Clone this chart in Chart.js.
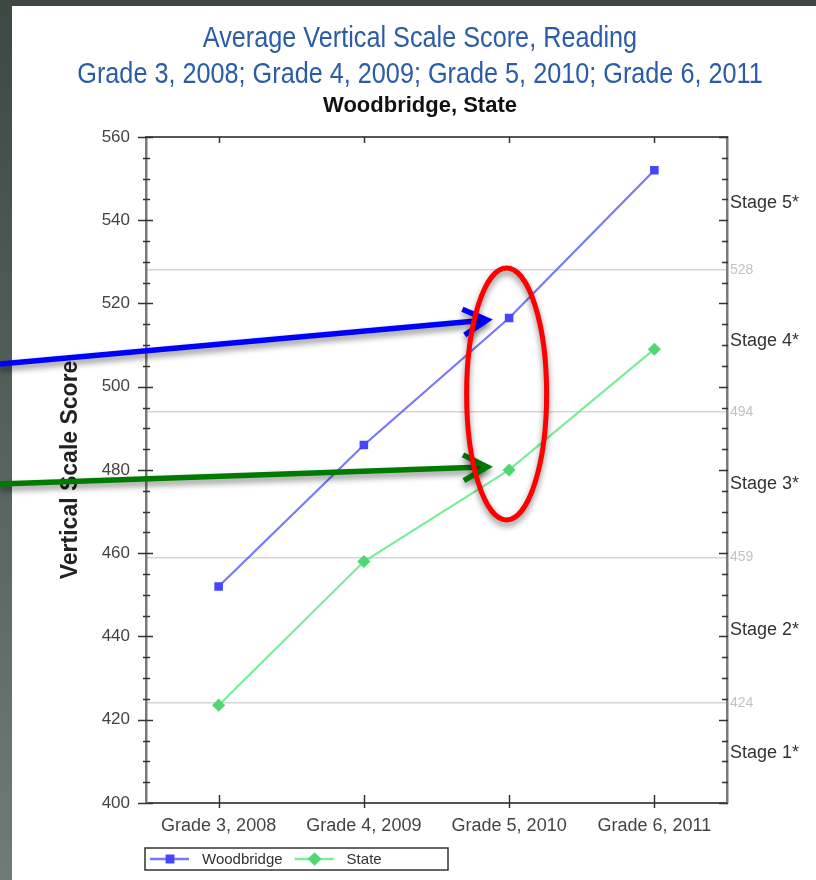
<!DOCTYPE html>
<html>
<head>
<meta charset="utf-8">
<title>Average Vertical Scale Score, Reading</title>
<script src="https://cdn.jsdelivr.net/npm/chart.js@4.4.0/dist/chart.umd.min.js"></script>
<style>
  html, body { margin: 0; padding: 0; overflow: hidden; }
  body { width: 816px; height: 880px; position: relative; background: linear-gradient(#3c4841, #6f7b77); }
  #panel { position: absolute; left: 12px; top: 6px; right: 0; bottom: 0; background: #fff; }
  #scoreChart { position: absolute; left: 0; top: 0; }
</style>
</head>
<body>
<div id="panel"></div>
<canvas id="scoreChart" width="816" height="880"></canvas>
<script>
const grades = ["Grade 3, 2008", "Grade 4, 2009", "Grade 5, 2010", "Grade 6, 2011"];
const woodbridge = [452, 486, 516.5, 552];
const stateAvg = [423.5, 458, 480, 509];
const stageCuts = [424, 459, 494, 528];
const stageNames = ["Stage 1*", "Stage 2*", "Stage 3*", "Stage 4*", "Stage 5*"];
const titleLines = ["Average Vertical Scale Score, Reading", "Grade 3, 2008; Grade 4, 2009; Grade 5, 2010; Grade 6, 2011"];
const scoreMin = 400;
const scoreMax = 560;
const minorStep = 5;

const SANS = '"Liberation Sans", Arial, sans-serif';
const padLeft = 24;

// stage labels sit halfway between the cut scores
const bounds = [scoreMin, ...stageCuts, scoreMax];
const stageMids = stageNames.map((n, i) => (bounds[i] + bounds[i + 1]) / 2);

function isCut(c) {
  return !!(c && c.tick && stageCuts.includes(c.tick.value));
}

// blue two-line heading in a narrow face (squeezed Liberation Sans)
const narrowTitle = {
  id: 'narrowTitle',
  afterDraw(chart) {
    const ctx = chart.ctx;
    const cx = (chart.width + padLeft) / 2;
    ctx.save();
    ctx.fillStyle = '#2b5ca6';
    ctx.font = '29px ' + SANS;
    ctx.textAlign = 'center';
    ctx.textBaseline = 'middle';
    titleLines.forEach((t, i) => {
      ctx.save();
      ctx.translate(cx, 38.5 + i * 36);
      ctx.scale(0.87, 1);
      ctx.fillText(t, 0, 0);
      ctx.restore();
    });
    ctx.restore();
  }
};

// box frame: top edge, minor ticks on both value axes, category ticks
const frameTicks = {
  id: 'frameTicks',
  beforeDatasetsDraw(chart) {
    const { ctx, chartArea: a, scales: { x, y } } = chart;
    ctx.save();
    ctx.strokeStyle = '#555';
    ctx.lineWidth = 2;
    ctx.beginPath();
    ctx.moveTo(a.left - 1, a.top);
    ctx.lineTo(a.right + 1, a.top);
    ctx.stroke();

    ctx.strokeStyle = '#333';
    ctx.lineWidth = 1.5;
    for (let v = scoreMin; v <= scoreMax; v += minorStep) {
      const py = Math.round(y.getPixelForValue(v)) + 0.5;
      const major = v % 20 === 0;
      ctx.beginPath();
      ctx.moveTo(a.left - (major ? 8 : 3), py);
      ctx.lineTo(a.left + (major ? 7 : 4), py);
      ctx.moveTo(a.right - (major ? 8 : 5), py);
      ctx.lineTo(a.right + 1, py);
      ctx.stroke();
    }
    grades.forEach((g, i) => {
      const px = Math.round(x.getPixelForValue(i)) + 0.5;
      ctx.beginPath();
      ctx.moveTo(px, a.bottom - 8);
      ctx.lineTo(px, a.bottom + 5);
      ctx.moveTo(px, a.top);
      ctx.lineTo(px, a.top + 6);
      ctx.stroke();
    });
    ctx.restore();
  }
};

// legend in a thin box under the plot, line + marker per series
const boxLegend = {
  id: 'boxLegend',
  afterDraw(chart) {
    const { ctx, chartArea: a } = chart;
    const left = a.left - 1, top = a.bottom + 45, w = 303, h = 22;
    const cy = top + h / 2;
    ctx.save();
    ctx.strokeStyle = '#333';
    ctx.lineWidth = 1.5;
    ctx.strokeRect(left, top, w, h);
    ctx.font = '15px ' + SANS;
    ctx.textBaseline = 'middle';
    let cx = left + 5;
    chart.data.datasets.forEach(ds => {
      ctx.strokeStyle = ds.borderColor;
      ctx.lineWidth = 2.5;
      ctx.beginPath();
      ctx.moveTo(cx, cy);
      ctx.lineTo(cx + 39, cy);
      ctx.stroke();
      ctx.fillStyle = ds.pointBackgroundColor;
      ctx.strokeStyle = ds.pointBorderColor;
      Chart.helpers.drawPoint(ctx, { pointStyle: ds.pointStyle, radius: ds.pointRadius, rotation: 0, borderWidth: 1 }, cx + 20, cy);
      ctx.fillStyle = '#333';
      ctx.fillText(ds.label, cx + 52, cy + 1);
      cx += 52 + ctx.measureText(ds.label).width + 12;
    });
    ctx.restore();
  }
};

function arrow(ctx, x0, y0, x1, y1, color) {
  const ang = Math.atan2(y1 - y0, x1 - x0);
  ctx.strokeStyle = color;
  ctx.lineWidth = 5.5;
  ctx.lineJoin = 'miter';
  ctx.beginPath();
  ctx.moveTo(x0, y0);
  ctx.lineTo(x1 - 3 * Math.cos(ang), y1 - 3 * Math.sin(ang));
  ctx.stroke();
  ctx.beginPath();
  ctx.moveTo(x1 - 27 * Math.cos(ang - 0.5), y1 - 27 * Math.sin(ang - 0.5));
  ctx.lineTo(x1, y1);
  ctx.lineTo(x1 - 27 * Math.cos(ang + 0.5), y1 - 27 * Math.sin(ang + 0.5));
  ctx.stroke();
}

// arrows and ring pointing at the Grade 5 scores
const blueArrowStartY = 364;
const greenArrowStartY = 484;
const callouts = {
  id: 'callouts',
  afterDraw(chart) {
    const { ctx, scales: { x, y } } = chart;
    const px = x.getPixelForValue(2);
    const wy = y.getPixelForValue(woodbridge[2]);
    const sy = y.getPixelForValue(stateAvg[2]);
    ctx.save();
    ctx.shadowColor = 'rgba(0,0,0,0.45)';
    ctx.shadowBlur = 6;
    ctx.shadowOffsetY = 4;
    arrow(ctx, 0, blueArrowStartY, px - 22, wy + 2, '#0000ff');
    arrow(ctx, 0, greenArrowStartY, px - 22, sy - 3, '#007a00');
    ctx.strokeStyle = '#ff0000';
    ctx.lineWidth = 5;
    ctx.beginPath();
    ctx.ellipse(px - 2.5, (wy + sy) / 2, 40, 126, 0, 0, Math.PI * 2);
    ctx.stroke();
    ctx.restore();
  }
};

new Chart(document.getElementById('scoreChart'), {
  type: 'line',
  data: {
    labels: grades,
    datasets: [
      {
        label: 'Woodbridge',
        data: woodbridge,
        borderColor: 'rgba(95,95,255,0.85)',
        borderWidth: 2.2,
        pointStyle: 'rect',
        pointRadius: 4.5,
        pointBackgroundColor: '#4646ff',
        pointBorderColor: '#4646ff',
        tension: 0,
        yAxisID: 'y'
      },
      {
        label: 'State',
        data: stateAvg,
        borderColor: 'rgba(110,235,140,0.9)',
        borderWidth: 2.2,
        pointStyle: 'rectRot',
        pointRadius: 5,
        pointBackgroundColor: '#4ed870',
        pointBorderColor: '#4ed870',
        tension: 0,
        yAxisID: 'y'
      }
    ]
  },
  options: {
    responsive: false,
    animation: false,
    layout: { padding: { left: padLeft, right: 0, top: 92.5, bottom: 0 } },
    plugins: {
      legend: { display: false },
      tooltip: { enabled: false },
      title: { display: false },
      subtitle: {
        display: true,
        text: 'Woodbridge, State',
        color: '#111',
        font: { family: SANS, size: 22, weight: 'bold', lineHeight: 1.2 },
        padding: { top: 0, bottom: 18 }
      }
    },
    scales: {
      x: {
        offset: true,
        grid: { display: true, drawOnChartArea: false, drawTicks: false },
        border: { display: true, color: '#555', width: 2 },
        ticks: { color: '#444', font: { family: SANS, size: 18 }, padding: 12, maxRotation: 0 },
        afterFit(s) { s.height = 77; }
      },
      y: {
        position: 'left',
        min: scoreMin,
        max: scoreMax,
        grid: { display: true, drawOnChartArea: false, drawTicks: false },
        border: { display: true, color: '#7a7a7a', width: 2.5 },
        ticks: { stepSize: 20, color: '#444', font: { family: SANS, size: 17 }, padding: 16 },
        title: {
          display: true,
          text: 'Vertical Scale Score',
          color: '#222',
          font: { family: SANS, size: 23, weight: 'bold' },
          padding: { top: 33, bottom: 0 }
        },
        afterFit(s) { s.width = 122; }
      },
      y2: {
        position: 'right',
        min: scoreMin,
        max: scoreMax,
        afterBuildTicks(s) {
          s.ticks = [...stageCuts, ...stageMids].sort((a, b) => a - b).map(v => ({ value: v }));
        },
        grid: {
          drawOnChartArea: true,
          drawTicks: false,
          lineWidth: 1.5,
          color: c => isCut(c) ? '#d6d6d6' : 'rgba(0,0,0,0)'
        },
        border: { display: true, color: '#7a7a7a', width: 2.5 },
        ticks: {
          padding: 3,
          callback: v => stageCuts.includes(v) ? String(v) : stageNames[stageMids.indexOf(v)],
          color: c => isCut(c) ? '#c2c2c2' : '#333',
          font: c => isCut(c) ? { family: SANS, size: 14 } : { family: SANS, size: 18 }
        },
        afterFit(s) { s.width = 89; }
      }
    }
  },
  plugins: [narrowTitle, frameTicks, boxLegend, callouts]
});
</script>
</body>
</html>
